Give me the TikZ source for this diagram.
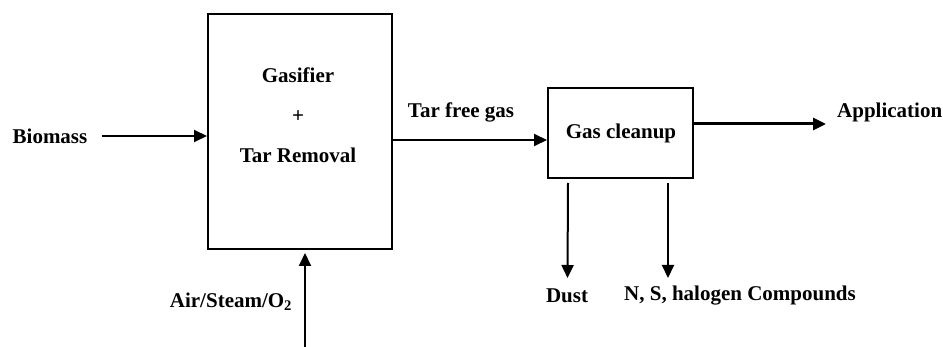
\documentclass[tikz,border=0pt]{standalone}
\usepackage{fontspec}
\setmainfont{Liberation Serif}
\usetikzlibrary{arrows.meta,calc}
\begin{document}
\begin{tikzpicture}[x=1pt,y=-1pt,
  blk/.style={draw,line width=2pt,inner sep=0pt},
  lbl/.style={inner sep=0pt,font=\fontsize{21}{40}\selectfont\bfseries},
  arr/.style={line width=2pt,-{Triangle[length=13pt,width=12pt]}}]
\useasboundingbox (0,0) rectangle (943,347);
\node[blk,minimum width=184pt,minimum height=235pt] (gas) at (300,131.5) {};
\node[blk,minimum width=145pt,minimum height=90pt] (clean) at (620.5,133) {};
\node[lbl,align=center] (gastext) at (298,115) {Gasifier\\+\\Tar Removal};
\node[lbl] (cleantext) at (621,133) {Gas cleanup};
\node[lbl] (bio) at (50,136) {Biomass};
\node[lbl] (air) at (231,302) {Air/Steam/O\textsubscript{2}};
\node[lbl] (tfg) at (461,112) {Tar free gas};
\node[lbl,anchor=west] (app) at (837,112) {Application};
\node[lbl] (dust) at (567,296) {Dust};
\node[lbl] (nsh) at (740,296) {N, S, halogen Compounds};
\coordinate (airin) at (305,347);
\coordinate (append) at (826,124);
\draw[arr] ($(bio.east)+(14,0)$) -- (gas.west |- bio.east);
\draw[arr] (airin) -- ($(airin |- gas.south)+(0,3)$);
\draw[arr] (gas.east |- 0,140) -- (clean.west |- 0,140);
\draw[arr,line width=3pt] (clean.east |- append) -- (append);
\draw[arr] ($(clean.south)+(-52.5,4)$) -- (567.5,278);
\draw[arr] ($(clean.south)+(47.5,4)$) -- (668,278);
\end{tikzpicture}
\end{document}
